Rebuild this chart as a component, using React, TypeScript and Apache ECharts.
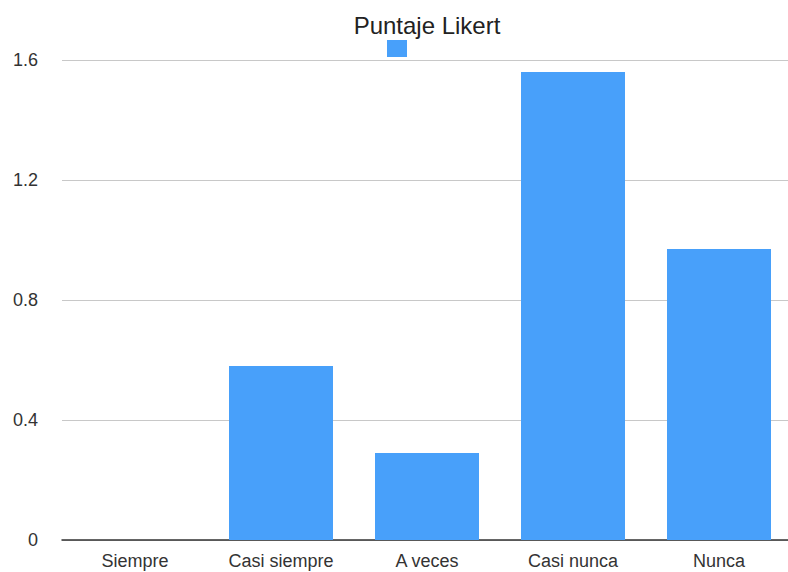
import React, { useEffect, useRef } from "react";
import * as echarts from "echarts";

const categories = ["Siempre", "Casi siempre", "A veces", "Casi nunca", "Nunca"];
const values = [0, 0.58, 0.29, 1.56, 0.97];
const seriesName = "Puntaje Likert";

export default function App() {
  const ref = useRef<HTMLDivElement>(null);

  useEffect(() => {
    if (!ref.current) return;
    const chart = echarts.init(ref.current, null, { renderer: "svg" });
    const font = "'Liberation Sans', Arial, Helvetica, sans-serif";
    chart.setOption({
      animation: false,
      backgroundColor: "#ffffff",
      title: {
        text: seriesName,
        left: 422,
        textAlign: "center",
        top: 8,
        textStyle: { fontFamily: font, fontSize: 24, fontWeight: "normal", color: "#222" },
      },
      legend: {
        data: [seriesName],
        left: 382,
        top: 35,
        itemWidth: 20,
        itemHeight: 17,
        itemGap: 0,
        formatter: () => "",
        icon: "rect",
        textStyle: { fontSize: 1 },
      },
      // plot area runs a little past the visible right edge
      grid: { left: 62, top: 60, width: 730, height: 480, containLabel: false },
      xAxis: {
        type: "category",
        data: categories,
        axisLine: { lineStyle: { color: "#333", width: 1.5 } },
        axisTick: { show: false },
        axisLabel: { fontFamily: font, fontSize: 18, color: "#333", margin: 12 },
      },
      yAxis: {
        type: "value",
        min: 0,
        max: 1.6,
        interval: 0.4,
        axisLine: { show: false },
        axisTick: { show: false },
        axisLabel: {
          fontFamily: font,
          fontSize: 18,
          color: "#333",
          margin: 24,
          formatter: (v: number) => (v === 0 ? "0" : v.toFixed(1)),
        },
        splitLine: { lineStyle: { color: "#c8c8c8", width: 1 } },
      },
      series: [
        {
          name: seriesName,
          type: "bar",
          data: values,
          barWidth: 104,
          itemStyle: { color: "#48a0fa" },
        },
      ],
    });
    return () => chart.dispose();
  }, []);

  return (
    <div
      style={{
        position: "fixed",
        left: 0,
        top: 0,
        width: 788,
        height: 572,
        overflow: "hidden",
        background: "#fff",
      }}
    >
      <div ref={ref} style={{ width: 800, height: 572 }} />
    </div>
  );
}
